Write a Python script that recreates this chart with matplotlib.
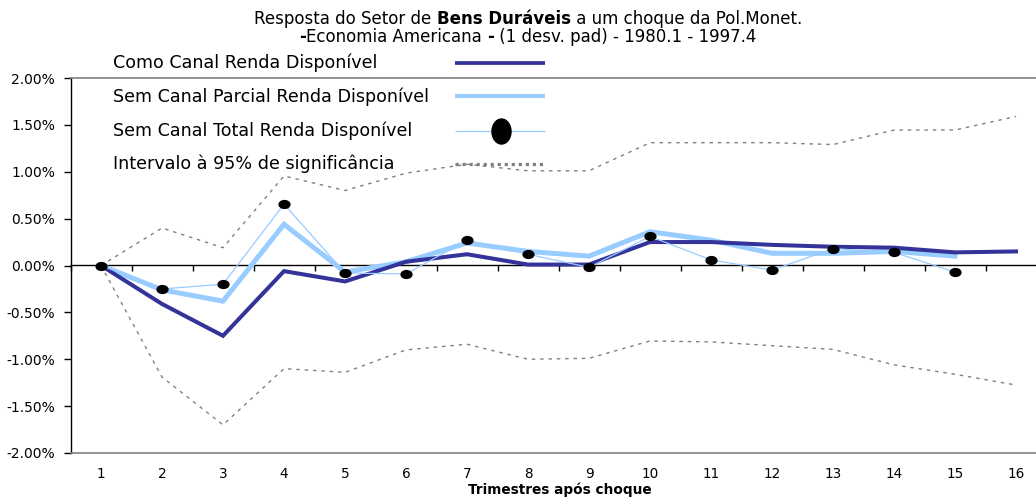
import matplotlib
matplotlib.use('Agg')
import matplotlib.pyplot as plt
from matplotlib.lines import Line2D
from matplotlib.path import Path
from matplotlib.transforms import Affine2D
import numpy as np

plt.rcParams['font.family'] = ['DejaVu Sans']

# ---------------- data (percent) ----------------
quarters = list(range(1, 17))
tick_labels = [str(q) for q in quarters]

com_canal = [0.0, -0.41, -0.75, -0.06, -0.17, 0.04, 0.12, 0.01, 0.01,
             0.25, 0.25, 0.22, 0.20, 0.19, 0.14, 0.15]
sem_parcial = [0.0, -0.26, -0.38, 0.44, -0.07, 0.04, 0.24, 0.15, 0.10,
               0.36, 0.27, 0.13, 0.13, 0.15, 0.10]
sem_total = [0.0, -0.25, -0.20, 0.655, -0.08, -0.09, 0.27, 0.12, -0.02,
             0.31, 0.06, -0.05, 0.18, 0.14, -0.07]
ic_sup = [0.0, 0.40, 0.19, 0.955, 0.80, 0.985, 1.08, 1.01, 1.01,
          1.31, 1.31, 1.31, 1.29, 1.445, 1.445, 1.59]
ic_inf = [0.0, -1.19, -1.70, -1.10, -1.14, -0.90, -0.84, -1.00, -0.99,
          -0.805, -0.815, -0.855, -0.895, -1.06, -1.16, -1.275]

y_ticks = [-2.0, -1.5, -1.0, -0.5, 0.0, 0.5, 1.0, 1.5, 2.0]

labels = ["Como Canal Renda Disponível",
          "Sem Canal Parcial Renda Disponível",
          "Sem Canal Total Renda Disponível",
          "Intervalo à 95% de significância"]

DARK = '#333399'
LIGHT = '#99CCFF'
GRAY = '#808080'

W, H = 1036, 497
fig = plt.figure(figsize=(W / 100, H / 100), dpi=100)


def fx(x):
    return x / W


def fy(y):
    return 1 - y / H


ax = fig.add_axes([fx(70.5), fy(453), 976 / W, 375 / H])
ax.set_xlim(0.5, 16.5)
ax.set_ylim(-2.0, 2.0)

# confidence interval
dot = (0, (2.5, 3.5))
ax.plot(quarters, ic_sup, color=GRAY, lw=1.0, ls=dot, zorder=1)
ax.plot(quarters, ic_inf, color=GRAY, lw=1.0, ls=dot, zorder=1)

# series
ax.plot(quarters[:len(sem_parcial)], sem_parcial, color=LIGHT, lw=3.6,
        solid_joinstyle='miter', zorder=3)
ax.plot(quarters, com_canal, color=DARK, lw=2.9, solid_joinstyle='miter', zorder=4)

ell_small = Path(Affine2D().scale(1.0, 0.72).transform(Path.unit_circle().vertices),
                 Path.unit_circle().codes)
ax.plot(quarters[:len(sem_total)], sem_total, color=LIGHT, lw=0.9, zorder=5)
ax.plot(quarters[:len(sem_total)], sem_total, ls='none', marker=ell_small,
        markersize=7.8, color='black', zorder=6)

# axes styling
ax.spines['right'].set_visible(False)
ax.spines['left'].set_color('black')
ax.spines['left'].set_linewidth(1.0)
ax.spines['top'].set_color(GRAY)
ax.spines['bottom'].set_color(GRAY)
ax.spines['top'].set_linewidth(1.2)
ax.spines['bottom'].set_linewidth(1.2)

ax.set_yticks(y_ticks)
ax.set_yticklabels(['%.2f%%' % v for v in y_ticks])
ax.tick_params(axis='y', direction='out', length=5, width=1, pad=6,
               labelsize=10, colors='black')
ax.set_xticks(quarters)
ax.set_xticklabels(tick_labels)
ax.tick_params(axis='x', length=0, pad=10, labelsize=9.8)

# zero axis with category separators
sec = ax.secondary_xaxis(0.5)
sec.set_xticks(np.arange(len(quarters) + 1) + 0.5)
sec.tick_params(axis='x', direction='in', length=4, width=1,
                labeltop=False, labelbottom=False)
for s in sec.spines.values():
    s.set_color('black')
    s.set_linewidth(1.0)

fig.text(fx(560), fy(490), "Trimestres após choque", ha='center', va='center',
         fontsize=9.8, fontweight='bold')

# ---------------- title (mixed weights) ----------------
renderer = fig.canvas.get_renderer()


def mixed_line(parts, cx, cy, size):
    texts = []
    for s, w in parts:
        t = fig.text(0, fy(cy), s, fontsize=size, fontweight=w, ha='left', va='center')
        texts.append(t)
    widths = [t.get_window_extent(renderer).width for t in texts]
    total = sum(widths)
    x = cx - total / 2
    for t, wd in zip(texts, widths):
        t.set_x(fx(x))
        x += wd


mixed_line([("Resposta do Setor de ", 'normal'), ("Bens Duráveis", 'bold'),
            (" a um choque da Pol.Monet.", 'normal')], 528, 19, 12)
mixed_line([("-", 'bold'), ("Economia Americana ", 'normal'), ("-", 'bold'),
            (" (1 desv. pad) - 1980.1 - 1997.4", 'normal')], 528, 37, 12)

# ---------------- legend (manual) ----------------
rows_y = [63, 97, 131, 164]
for lab, yy in zip(labels, rows_y):
    fig.text(fx(113), fy(yy), lab, fontsize=12.6, ha='left', va='center')

x0, x1 = fx(455), fx(545)
fig.add_artist(Line2D([x0, x1], [fy(63), fy(63)], color=DARK, lw=2.7,
                      solid_capstyle='butt', transform=fig.transFigure))
fig.add_artist(Line2D([x0, x1], [fy(96), fy(96)], color=LIGHT, lw=3.0,
                      solid_capstyle='butt', transform=fig.transFigure))
fig.add_artist(Line2D([x0, x1], [fy(131), fy(131)], color=LIGHT, lw=0.9,
                      solid_capstyle='butt', transform=fig.transFigure))
ell_big = Path(Affine2D().scale(0.76, 1.0).transform(Path.unit_circle().vertices),
               Path.unit_circle().codes)
fig.add_artist(Line2D([fx(501)], [fy(131)], ls='none', marker=ell_big,
                      markersize=18, color='black', transform=fig.transFigure))
fig.add_artist(Line2D([x0, x1], [fy(164), fy(164)], color=GRAY, lw=2.3,
                      ls=(0, (1, 1.2)), solid_capstyle='butt',
                      transform=fig.transFigure))

fig.savefig('out.png', dpi=100)
